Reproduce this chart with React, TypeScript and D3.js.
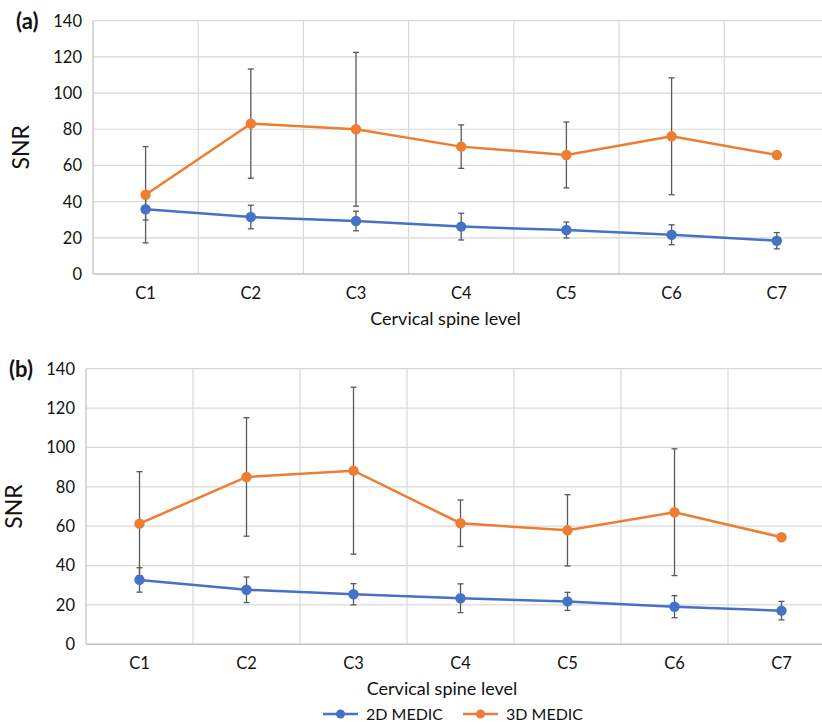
import React from "react";
import * as d3 from "d3";

const width = 822;
const height = 726;

const levels = ["C1", "C2", "C3", "C4", "C5", "C6", "C7"];
const yTicks = [0, 20, 40, 60, 80, 100, 120, 140];

// panel (a)
const a2D = [35.8, 31.5, 29.3, 26.2, 24.3, 21.7, 18.4];
const a2DErr = [6.0, 6.5, 5.4, 7.4, 4.4, 5.5, 4.5];
const a3D = [43.8, 83.1, 80.0, 70.4, 65.8, 76.1, 65.8];
const a3DErr = [26.6, 30.2, 42.5, 12.0, 18.2, 32.3, 0];

// panel (b)
const b2D = [32.7, 27.7, 25.4, 23.4, 21.8, 19.1, 17.1];
const b2DErr = [6.2, 6.5, 5.4, 7.3, 4.6, 5.6, 4.7];
const b3D = [61.3, 85.0, 88.2, 61.5, 57.9, 67.1, 54.4];
const b3DErr = [26.4, 30.1, 42.4, 11.8, 18.1, 32.2, 0];

const blue = "#4472C4";
const orange = "#ED7D31";
const errColor = "#595959";
const gridColor = "#d9d9d9";
const font = "Lato, 'Open Sans', sans-serif";
const legendY = 714;

const Panel = ({ label, left, right, top, bottom, s2D, e2D, s3D, e3D }) => {
  const x = d3.scaleBand().domain(levels).range([left, right]);
  const y = d3.scaleLinear().domain([0, 140]).range([bottom, top]);
  const cx = (d) => x(d) + x.bandwidth() / 2;
  const line = d3
    .line<number>()
    .x((_, i) => cx(levels[i]))
    .y((v) => y(v));

  const series = [
    { vals: s2D, err: e2D, color: blue },
    { vals: s3D, err: e3D, color: orange },
  ];

  return (
    <g>
      {yTicks.map((t) => (
        <g key={t}>
          {t > 0 && (
            <line x1={left} x2={right} y1={y(t)} y2={y(t)} stroke={gridColor} strokeWidth={1.2} />
          )}
          <text x={left - 11} y={y(t)} dy="0.36em" textAnchor="end" fontSize={16.5} fill="#111">
            {t}
          </text>
        </g>
      ))}
      {levels.map((c, i) => (
        <line
          key={c}
          x1={x(c)}
          x2={x(c)}
          y1={top}
          y2={bottom}
          stroke={i === 0 ? "#bfbfbf" : gridColor}
          strokeWidth={1.2}
        />
      ))}
      <line x1={left} x2={right} y1={bottom} y2={bottom} stroke="#bfbfbf" strokeWidth={1.4} />
      {levels.map((c) => (
        <text key={c} x={cx(c)} y={bottom + 25} textAnchor="middle" fontSize={16.5} fill="#111">
          {c}
        </text>
      ))}
      <text x={(left + 822) / 2 - 12} y={bottom + 51} textAnchor="middle" fontSize={18} fill="#111">
        Cervical spine level
      </text>
      <text
        transform={`translate(${left - 64},${(top + bottom) / 2}) rotate(-90)`}
        textAnchor="middle"
        fontSize={23}
        fill="#111"
      >
        SNR
      </text>
      <text x={left - 77} y={top + 8} fontSize={22} fontWeight="bold" fill="#111">
        {label}
      </text>
      {series.map((s, si) => (
        <g key={si}>
          {s.vals.map((v, i) =>
            s.err[i] > 0 ? (
              <g key={i} stroke={errColor} strokeWidth={1.3}>
                <line x1={cx(levels[i])} x2={cx(levels[i])} y1={y(v + s.err[i])} y2={y(v - s.err[i])} />
                <line x1={cx(levels[i]) - 3} x2={cx(levels[i]) + 3} y1={y(v + s.err[i])} y2={y(v + s.err[i])} />
                <line x1={cx(levels[i]) - 3} x2={cx(levels[i]) + 3} y1={y(v - s.err[i])} y2={y(v - s.err[i])} />
              </g>
            ) : null
          )}
        </g>
      ))}
      {series.map((s, si) => (
        <g key={si}>
          <path d={line(s.vals) || ""} fill="none" stroke={s.color} strokeWidth={2.5} />
          {s.vals.map((v, i) => (
            <circle key={i} cx={cx(levels[i])} cy={y(v)} r={5.2} fill={s.color} />
          ))}
        </g>
      ))}
    </g>
  );
};

const LegendItem = ({ x, color, text }) => (
  <g>
    <line x1={x} x2={x + 35} y1={legendY} y2={legendY} stroke={color} strokeWidth={2.5} />
    <circle cx={x + 17.5} cy={legendY} r={4.5} fill={color} />
    <text x={x + 43} y={legendY} dy="0.36em" fontSize={16} fill="#111">
      {text}
    </text>
  </g>
);

export default function App() {
  return (
    <svg
      width={width}
      height={height}
      style={{ position: "absolute", left: 0, top: 0, background: "#fff", fontFamily: font }}
    >
      <Panel label="(a)" left={93} right={829.4} top={20.7} bottom={274} s2D={a2D} e2D={a2DErr} s3D={a3D} e3D={a3DErr} />
      <Panel label="(b)" left={86} right={835} top={368.7} bottom={644.3} s2D={b2D} e2D={b2DErr} s3D={b3D} e3D={b3DErr} />
      <LegendItem x={323} color={blue} text="2D MEDIC" />
      <LegendItem x={463} color={orange} text="3D MEDIC" />
    </svg>
  );
}
